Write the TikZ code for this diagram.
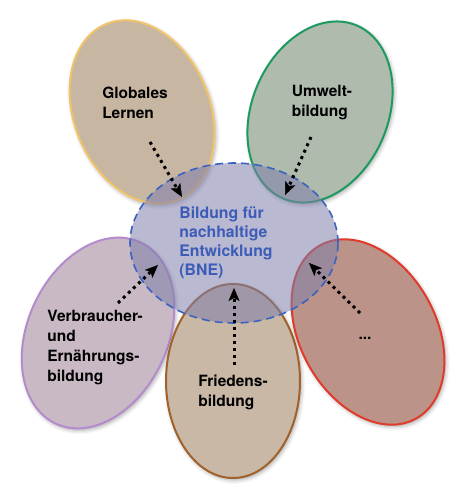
\documentclass[tikz,border=0pt]{standalone}
\usepackage{fontspec}
\setmainfont{TeX Gyre Heros}
\usetikzlibrary{shapes.geometric,arrows.meta,shadows.blur}
\definecolor{globfill}{HTML}{C7B6A2}
\definecolor{globline}{HTML}{F2C46A}
\definecolor{umwfill}{HTML}{AEBBAD}
\definecolor{umwline}{HTML}{1E9A60}
\definecolor{verbfill}{HTML}{C8B9C4}
\definecolor{verbline}{HTML}{B48CCC}
\definecolor{friedfill}{HTML}{C9B8A6}
\definecolor{friedline}{HTML}{A0612A}
\definecolor{dotsfill}{HTML}{BC9388}
\definecolor{dotsline}{HTML}{E03A2A}
\definecolor{bnefill}{HTML}{7F7FAC}
\definecolor{bneline}{HTML}{3B62C0}
\definecolor{bnetext}{HTML}{3D5CB8}
\tikzset{%
  petal/.style={
    ellipse,
    inner sep=0pt,
    line width=2pt,
    blur shadow={shadow xshift=1.5pt, shadow yshift=-2pt, shadow blur radius=4pt, shadow opacity=35}
  },
  bne/.style={
    ellipse,
    inner sep=0pt,
    draw=bneline,
    line width=1.6pt,
    dash pattern=on 8pt off 5pt,
    fill=bnefill,
    fill opacity=0.55
  },
  petal text/.style={
    font=\bfseries\fontsize{15.5}{20}\selectfont,
    align=left,
    inner sep=0pt
  },
  flow/.style={
    line width=3pt,
    dash pattern=on 3pt off 4pt,
    -{Stealth[length=13pt,width=11pt,inset=3pt,line width=0.4pt]}
  },
}

\begin{document}
\begin{tikzpicture}[x=1pt,y=-1pt]
  \useasboundingbox (0,0) rectangle (454,486);
  % petals
  \node[petal, draw=globline, fill=globfill, minimum width=136pt, minimum height=190pt, rotate=22] (glob) at (142,112) {};
  \node[petal, draw=umwline, fill=umwfill, minimum width=136pt, minimum height=188pt, rotate=-23] (umw) at (320,112) {};
  \node[petal, draw=verbline, fill=verbfill, minimum width=140pt, minimum height=200pt, rotate=-25] (verb) at (98,333) {};
  \node[petal, draw=friedline, fill=friedfill, minimum width=134pt, minimum height=194pt] (fried) at (233,381) {};
  \node[petal, draw=dotsline, fill=dotsfill, minimum width=136pt, minimum height=198pt, rotate=29] (dots) at (368,332) {};
  % centre
  \node[bne, minimum width=208pt, minimum height=160pt] (bne) at (234,243) {};
  % texts
  \node[petal text] (globtext) at (135,103) {Globales\\Lernen};
  \node[petal text] (umwtext) at (322,103) {Umwelt-\\bildung};
  \node[petal text, text=bnetext, font=\bfseries\fontsize{15.8}{19}\selectfont] (bnetext) at (226,243) {Bildung für\\nachhaltige\\Entwicklung\\(BNE)};
  \node[petal text] (verbtext) at (95,348) {Verbraucher-\\und\\Ernährungs-\\bildung};
  \node[petal text] (friedtext) at (233,392) {Friedens-\\bildung};
  \node[petal text] (dotstext) at (365,338) {...};
  % arrows
  \coordinate (glob-s) at (150,142); \coordinate (glob-t) at (182,197);
  \coordinate (umw-s) at (311,137); \coordinate (umw-t) at (285,195);
  \coordinate (verb-s) at (118,303); \coordinate (verb-t) at (158,265);
  \coordinate (fried-s) at (234,365); \coordinate (fried-t) at (234,288);
  \coordinate (dots-s) at (360,313); \coordinate (dots-t) at (309,263);
  \foreach \p in {glob,umw,verb,fried,dots} {
      \draw[flow] (\p-s) -- (\p-t);
  }
\end{tikzpicture}
\end{document}
